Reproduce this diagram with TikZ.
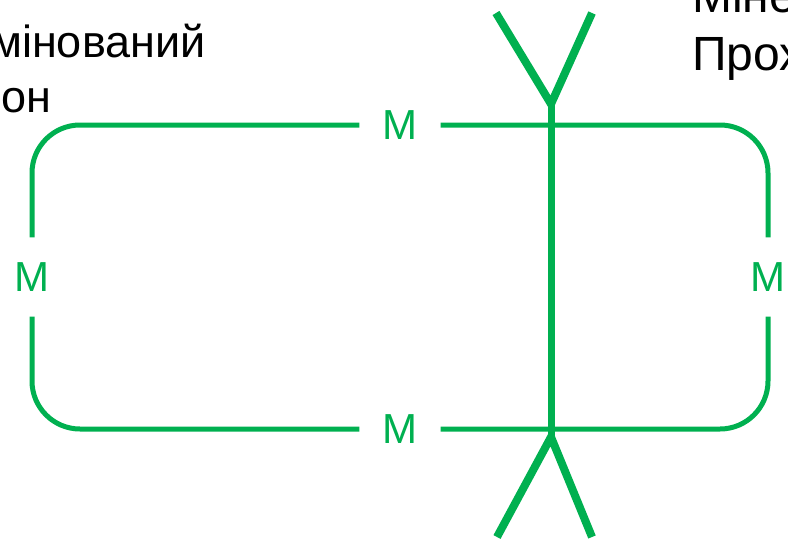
\documentclass[tikz,border=0pt]{standalone}
\usepackage{fontspec}
\setmainfont{Liberation Sans}
\definecolor{minegreen}{HTML}{00B050}
\tikzset{
  mine/.style={text=minegreen, inner sep=0pt, minimum width=81pt,
    minimum height=79pt, font=\fontsize{42}{46}\selectfont},
  frame/.style={draw=minegreen, line width=5pt, rounded corners=48pt},
  stem/.style={draw=minegreen, line width=7pt},
  arm/.style={draw=minegreen, line width=8pt, line join=miter},
  lbl/.style={inner sep=0pt, anchor=base west, font=\fontsize{45}{54}\selectfont},
  lblr/.style={lbl, font=\fontsize{48}{58}\selectfont}
}
\begin{document}
\begin{tikzpicture}[x=1pt, y=-1pt]
  \useasboundingbox (0,0) rectangle (788,549);
  \clip (0,0) rectangle (788,549);
  % labels
  \node[lbl] (zoneA) at (-9,57) {мінований};
  \node[lbl] (zoneB) at (1,112) {он};
  \node[lblr] (passA) at (692,12) {Міне};
  \node[lblr] (passB) at (692,70) {Прох};
  % mines on the frame
  \node[mine] (mTop) at (400,125) {M};
  \node[mine] (mBot) at (400,429) {M};
  \node[mine] (mLeft) at (32,277) {M};
  \node[mine] (mRight) at (768,277) {M};
  \draw[frame] (mTop.west) -| (mLeft.north);
  \draw[frame] (mLeft.south) |- (mBot.west);
  \draw[frame] (mBot.east) -| (mRight.south);
  \draw[frame] (mRight.north) |- (mTop.east);
  % passage
  \coordinate (vTop) at (551,104);
  \coordinate (vBot) at (551,437);
  \coordinate (tl) at (496,13);
  \coordinate (tr) at (592,13);
  \coordinate (bl) at (497,537);
  \coordinate (br) at (592,537);
  \draw[stem] (vTop) -- (vBot);
  \draw[arm] (tl) -- (vTop) -- (tr);
  \draw[arm] (bl) -- (vBot) -- (br);
\end{tikzpicture}
\end{document}
